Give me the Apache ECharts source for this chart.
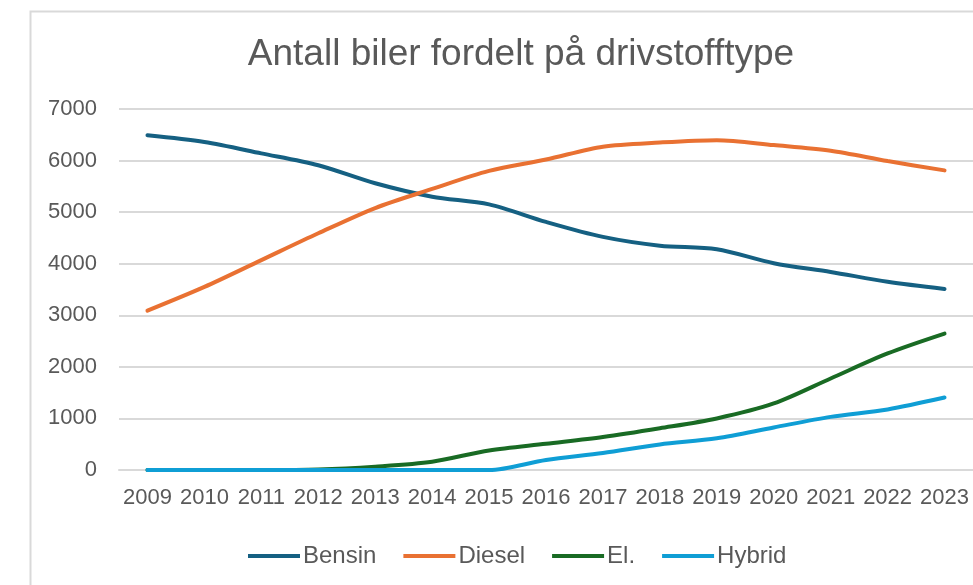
<!DOCTYPE html>
<html>
<head>
<meta charset="utf-8">
<script src="https://cdn.jsdelivr.net/npm/echarts@6/dist/echarts.min.js"></script>
<style>
  html, body { margin: 0; padding: 0; background: #fff; }
  #chart { width: 973px; height: 585px; }
</style>
</head>
<body>
<div id="chart"></div>
<script>
// data
var years = ['2009', '2010', '2011', '2012', '2013', '2014', '2015', '2016', '2017', '2018', '2019', '2020', '2021', '2022', '2023'];
var bensin = [6490, 6360, 6140, 5910, 5560, 5300, 5150, 4810, 4520, 4350, 4280, 4010, 3840, 3650, 3510];
var diesel = [3090, 3550, 4070, 4590, 5080, 5450, 5800, 6020, 6270, 6350, 6395, 6300, 6190, 5990, 5810];
var el = [0, 0, 0, 10, 65, 160, 380, 510, 640, 810, 1000, 1290, 1775, 2260, 2645];
var hybrid = [0, 0, 0, 0, 0, 0, 0, 195, 330, 495, 615, 825, 1030, 1175, 1405];
var yTicks = [0, 1000, 2000, 3000, 4000, 5000, 6000, 7000];

var grey = '#595959';
var font = 'Liberation Sans';

var myChart = echarts.init(document.getElementById('chart'));

function line(name, data, color) {
  return {
    name: name,
    type: 'line',
    data: data,
    smooth: 0.3,
    symbol: 'none',
    lineStyle: { width: 4, color: color, cap: 'round' },
    itemStyle: { color: color }
  };
}

var option = {
  backgroundColor: '#fff',
  animation: false,
  graphic: [{
    // frame of the chart area, cut off at the right and bottom
    type: 'rect',
    left: 28, top: 9,
    shape: { width: 1000, height: 640 },
    style: { fill: 'none', stroke: '#d9d9d9', lineWidth: 2 }
  }],
  title: {
    text: 'Antall biler fordelt på drivstofftype',
    left: 516,
    textAlign: 'center',
    top: 31,
    textStyle: { fontFamily: font, fontSize: 37, fontWeight: 'normal', color: grey }
  },
  grid: { left: 119, top: 109, width: 857, height: 361 },
  legend: {
    data: ['Bensin', 'Diesel', 'El.', 'Hybrid'],
    left: 243,
    top: 539,
    itemWidth: 52,
    itemHeight: 4,
    itemGap: 27,
    icon: 'rect',
    textStyle: { fontFamily: font, fontSize: 24, color: grey, padding: [0, 0, 0, -2] }
  },
  xAxis: {
    type: 'category',
    data: years,
    boundaryGap: true,
    axisLine: { lineStyle: { color: '#d9d9d9', width: 2 } },
    axisTick: { show: false },
    axisLabel: { fontFamily: font, fontSize: 22, color: grey, margin: 17, interval: 0 }
  },
  yAxis: {
    type: 'value',
    min: yTicks[0],
    max: yTicks[yTicks.length - 1],
    interval: 1000,
    axisLine: { show: false },
    axisTick: { show: false },
    axisLabel: {
      fontFamily: font, fontSize: 22, color: grey, margin: 22,
      formatter: function (v) { return String(v); }
    },
    splitLine: { lineStyle: { color: '#d9d9d9', width: 2 } }
  },
  series: [
    line('Bensin', bensin, '#156082'),
    line('Diesel', diesel, '#E97132'),
    line('El.', el, '#196B24'),
    line('Hybrid', hybrid, '#0F9ED5')
  ]
};

myChart.setOption(option);
</script>
</body>
</html>
